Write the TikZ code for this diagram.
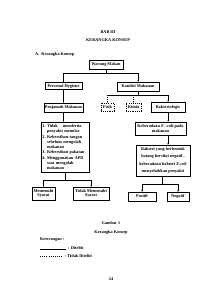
\documentclass[tikz,border=0pt]{standalone}
\usepackage{fontspec}
\setmainfont{Liberation Serif}
\usetikzlibrary{arrows.meta}
\tikzset{
  tw/.style={font=\bfseries\fontsize{12}{13.8}\selectfont, inner sep=0pt},
  box/.style={draw, line width=0.8pt, align=center, inner sep=2pt,
    font=\bfseries\fontsize{12}{13.8}\selectfont},
  dbox/.style={box, dashed},
  con/.style={line width=0.7pt},
  arr/.style={con, -{Latex[length=4pt,width=3.4pt]}},
  darr/.style={arr, dashed},
}
\newcommand{\listitem}[2]{\hangindent=13pt\hangafter=1\noindent\makebox[13pt][l]{#1}#2\par}
\begin{document}
\begin{tikzpicture}[x=2.808pt,y=-2.808pt]
\useasboundingbox (0,0) rectangle (212,300);
% titles
\node[tw] (bab) at (108,32) {BAB III};
\node[tw] (ttl) at (108,40) {KERANGKA KONSEP};
\node[tw, anchor=west] (sec) at (35,54) {A.\hspace{6pt}Kerangka Konsep};
% boxes
\node[box, minimum width=95pt, minimum height=25pt] (wm) at (106,64.5) {Warung Makan};
\node[box, minimum width=104pt, minimum height=20pt] (ph) at (63.5,86) {Personal Hygiene};
\node[box, minimum width=118pt, minimum height=25pt] (kon) at (138,86.5) {Kondisi Makanan};
\node[box, minimum width=104pt, minimum height=25pt] (pm) at (63.5,107.5) {Penjamah Makanan};
\node[dbox, minimum width=37pt, minimum height=22pt] (fis) at (107.5,107) {Fisik};
\node[dbox, minimum width=42pt, minimum height=22pt] (kim) at (133.5,107) {Kimia};
\node[box, line width=1.2pt, minimum width=95pt, minimum height=27pt] (bak) at (168,107) {Bakteriologis};
\node[box, text width=127pt, inner sep=3pt, minimum height=140pt, align=left] (list) at (65,147) {%
  \setlength{\parskip}{2.5pt}%
  \listitem{1.}{Tidak\hspace{14pt}menderita penyakit menular}
  \listitem{2.}{Kebersihan tangan sebelum mengolah makanan}
  \listitem{3.}{Kebersihan pakaian}
  \listitem{4.}{Menggunakan APD saat mengolah makanan}};
\node[box, minimum width=143pt, minimum height=36pt] (keb) at (160.5,128.5) {Keberadaan \textit{E} --coli pada\\makanan};
\node[box, minimum width=152pt, minimum height=87pt, font=\bfseries\fontsize{12}{20}\selectfont] (bkt) at (163,160.5)
  {Bakteri yang berbentuk\\batang bersifat negatif ,\\keberadaan bakteri \textit{E.coli}\\menyebabkan penyakit};
\node[box, minimum width=65pt, minimum height=36pt] (ms) at (43.5,193.5) {Memenuhi\\Syarat};
\node[box, minimum width=101pt, minimum height=36pt] (tms) at (91,193.5) {Tidak Memenuhi\\Syarat};
\node[box, minimum width=79pt, minimum height=25pt] (pos) at (142,196.5) {Positif};
\node[box, minimum width=62pt, minimum height=25pt] (neg) at (178,196.5) {Negatif};
% connectors
\coordinate (j0) at (106,73.5);
\draw[con] (wm.south) -- (j0);
\draw[arr] (j0) -| (ph.north);
\draw[arr] (j0) -| (kon.north);
\draw[arr] (ph.south) -- (pm.north);
\draw[arr] (pm.south) -- (pm.south |- list.north);
\coordinate (j1) at (138,95);
\draw[con] (kon.south) -- (j1);
\draw[con] (fis.north |- j1) -- (bak.north |- j1);
\draw[darr] (fis.north |- j1) -- (fis.north);
\draw[darr] (kim.north |- j1) -- (kim.north);
\draw[arr] (bak.north |- j1) -- (bak.north);
\draw[arr] (bak.south) -- (bak.south |- keb.north);
\draw[arr] (bak.south |- keb.south) -- (bak.south |- bkt.north);
\coordinate (j2) at (65,180);
\draw[con] (list.south -| j2) -- (j2);
\draw[con] (ms.north |- j2) -- (tms.north |- j2);
\draw[arr] (ms.north |- j2) -- (ms.north);
\draw[arr] (tms.north |- j2) -- (tms.north);
\coordinate (j3) at (162,184);
\draw[con] (bkt.south -| j3) -- (j3);
\draw[con] (pos.north |- j3) -- (neg.north |- j3);
\draw[arr] (pos.north |- j3) -- (pos.north);
\draw[arr] (neg.north |- j3) -- (neg.north);
% caption and legend
\node[tw] (gam) at (111,223.5) {Gambar 1};
\node[tw] (cap) at (111,232) {Kerangka Konsep};
\node[tw, anchor=west] (ket) at (40,240) {Keterangan :};
\coordinate (la) at (40,249);
\coordinate (lb) at (66,249);
\draw[con] (la) -- (lb);
\node[tw, anchor=west] (l1) at (68,248) {: Diteliti};
\coordinate (lc) at (40,256);
\coordinate (ld) at (63,256);
\draw[con, dashed] (lc) -- (ld);
\node[tw, anchor=west] (l2) at (64.5,256) {: Tidak Diteliti};
\node[tw] (pg) at (111,279) {24};
\end{tikzpicture}
\end{document}
